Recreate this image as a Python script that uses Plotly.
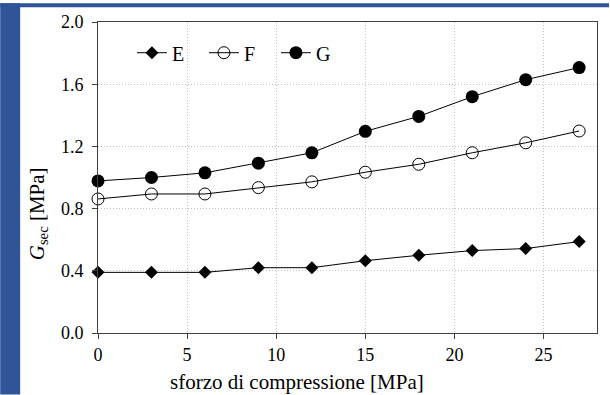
import plotly.graph_objects as go

x_stress = [0, 3, 6, 9, 12, 15, 18, 21, 24, 27]
E_vals = [0.39, 0.39, 0.39, 0.42, 0.42, 0.465, 0.50, 0.53, 0.543, 0.588]
F_vals = [0.862, 0.894, 0.894, 0.935, 0.972, 1.034, 1.085, 1.159, 1.223, 1.299]
G_vals = [0.978, 1.0, 1.03, 1.092, 1.159, 1.297, 1.393, 1.52, 1.629, 1.707]
x_ticks = [0, 5, 10, 15, 20, 25]
y_ticks = [0.0, 0.4, 0.8, 1.2, 1.6, 2.0]

FONT = "Liberation Serif"
BLUE = "rgb(47,85,151)"

fig = go.Figure()
fig.add_trace(go.Scatter(x=x_stress, y=E_vals, name="E", mode="lines+markers",
                         line=dict(color="black", width=1),
                         marker=dict(symbol="diamond", size=10, color="black"),
                         cliponaxis=False))
fig.add_trace(go.Scatter(x=x_stress, y=F_vals, name="F", mode="lines+markers",
                         line=dict(color="black", width=1),
                         marker=dict(symbol="circle-open", size=12, color="black",
                                     line=dict(width=1, color="black")),
                         cliponaxis=False))
fig.add_trace(go.Scatter(x=x_stress, y=G_vals, name="G", mode="lines+markers",
                         line=dict(color="black", width=1),
                         marker=dict(symbol="circle", size=13, color="black"),
                         cliponaxis=False))

L, R, T, B = 98, 12, 19, 62
W, H = 610, 395
pw, ph = W - L - R, H - T - B

def px_x(p):
    return (p - L) / pw

def px_y(p):
    return (H - B - p) / ph

axis_common = dict(showgrid=True, gridcolor="#c4c4c4", griddash="1px,2px", gridwidth=1,
                   showline=True, linecolor="#404040", linewidth=1, mirror=True,
                   ticks="outside", ticklen=5, tickcolor="#404040", zeroline=False,
                   tickfont=dict(family=FONT, size=18, color="black"))

fig.update_layout(
    width=W, height=H,
    margin=dict(l=L, r=R, t=T, b=B),
    paper_bgcolor="white", plot_bgcolor="white",
    font=dict(family=FONT, size=18, color="black"),
    showlegend=True,
    legend=dict(orientation="h", x=px_x(132), y=px_y(50), xanchor="left", yanchor="middle",
                font=dict(family=FONT, size=20, color="black"),
                bgcolor="rgba(0,0,0,0)", entrywidth=27, itemwidth=30),
    xaxis=dict(range=[0, 28], tickvals=x_ticks, ticktext=[str(v) for v in x_ticks],
               **axis_common),
    yaxis=dict(range=[0, 2.0], tickvals=y_ticks, ticktext=[f"{v:.1f}" for v in y_ticks],
               ticklabelstandoff=5, **axis_common),
    shapes=[
        dict(type="rect", xref="paper", yref="paper", x0=px_x(0), x1=px_x(20),
             y0=px_y(H), y1=px_y(0), fillcolor=BLUE, line=dict(width=0), layer="below"),
        dict(type="rect", xref="paper", yref="paper", x0=px_x(0), x1=px_x(W),
             y0=px_y(4), y1=px_y(0), fillcolor=BLUE, line=dict(width=0), layer="below"),
    ],
    annotations=[
        dict(text="<i>G</i><sub>sec</sub> [MPa]", xref="paper", yref="paper",
             x=px_x(38), y=px_y(213), textangle=-90, showarrow=False,
             font=dict(family=FONT, size=21, color="black"), xanchor="center", yanchor="middle"),
        dict(text="sforzo di compressione [MPa]", xref="paper", yref="paper",
             x=px_x(297), y=px_y(382), showarrow=False,
             font=dict(family=FONT, size=21, color="black"), xanchor="center", yanchor="middle"),
    ],
)

fig.write_html("out.html")
